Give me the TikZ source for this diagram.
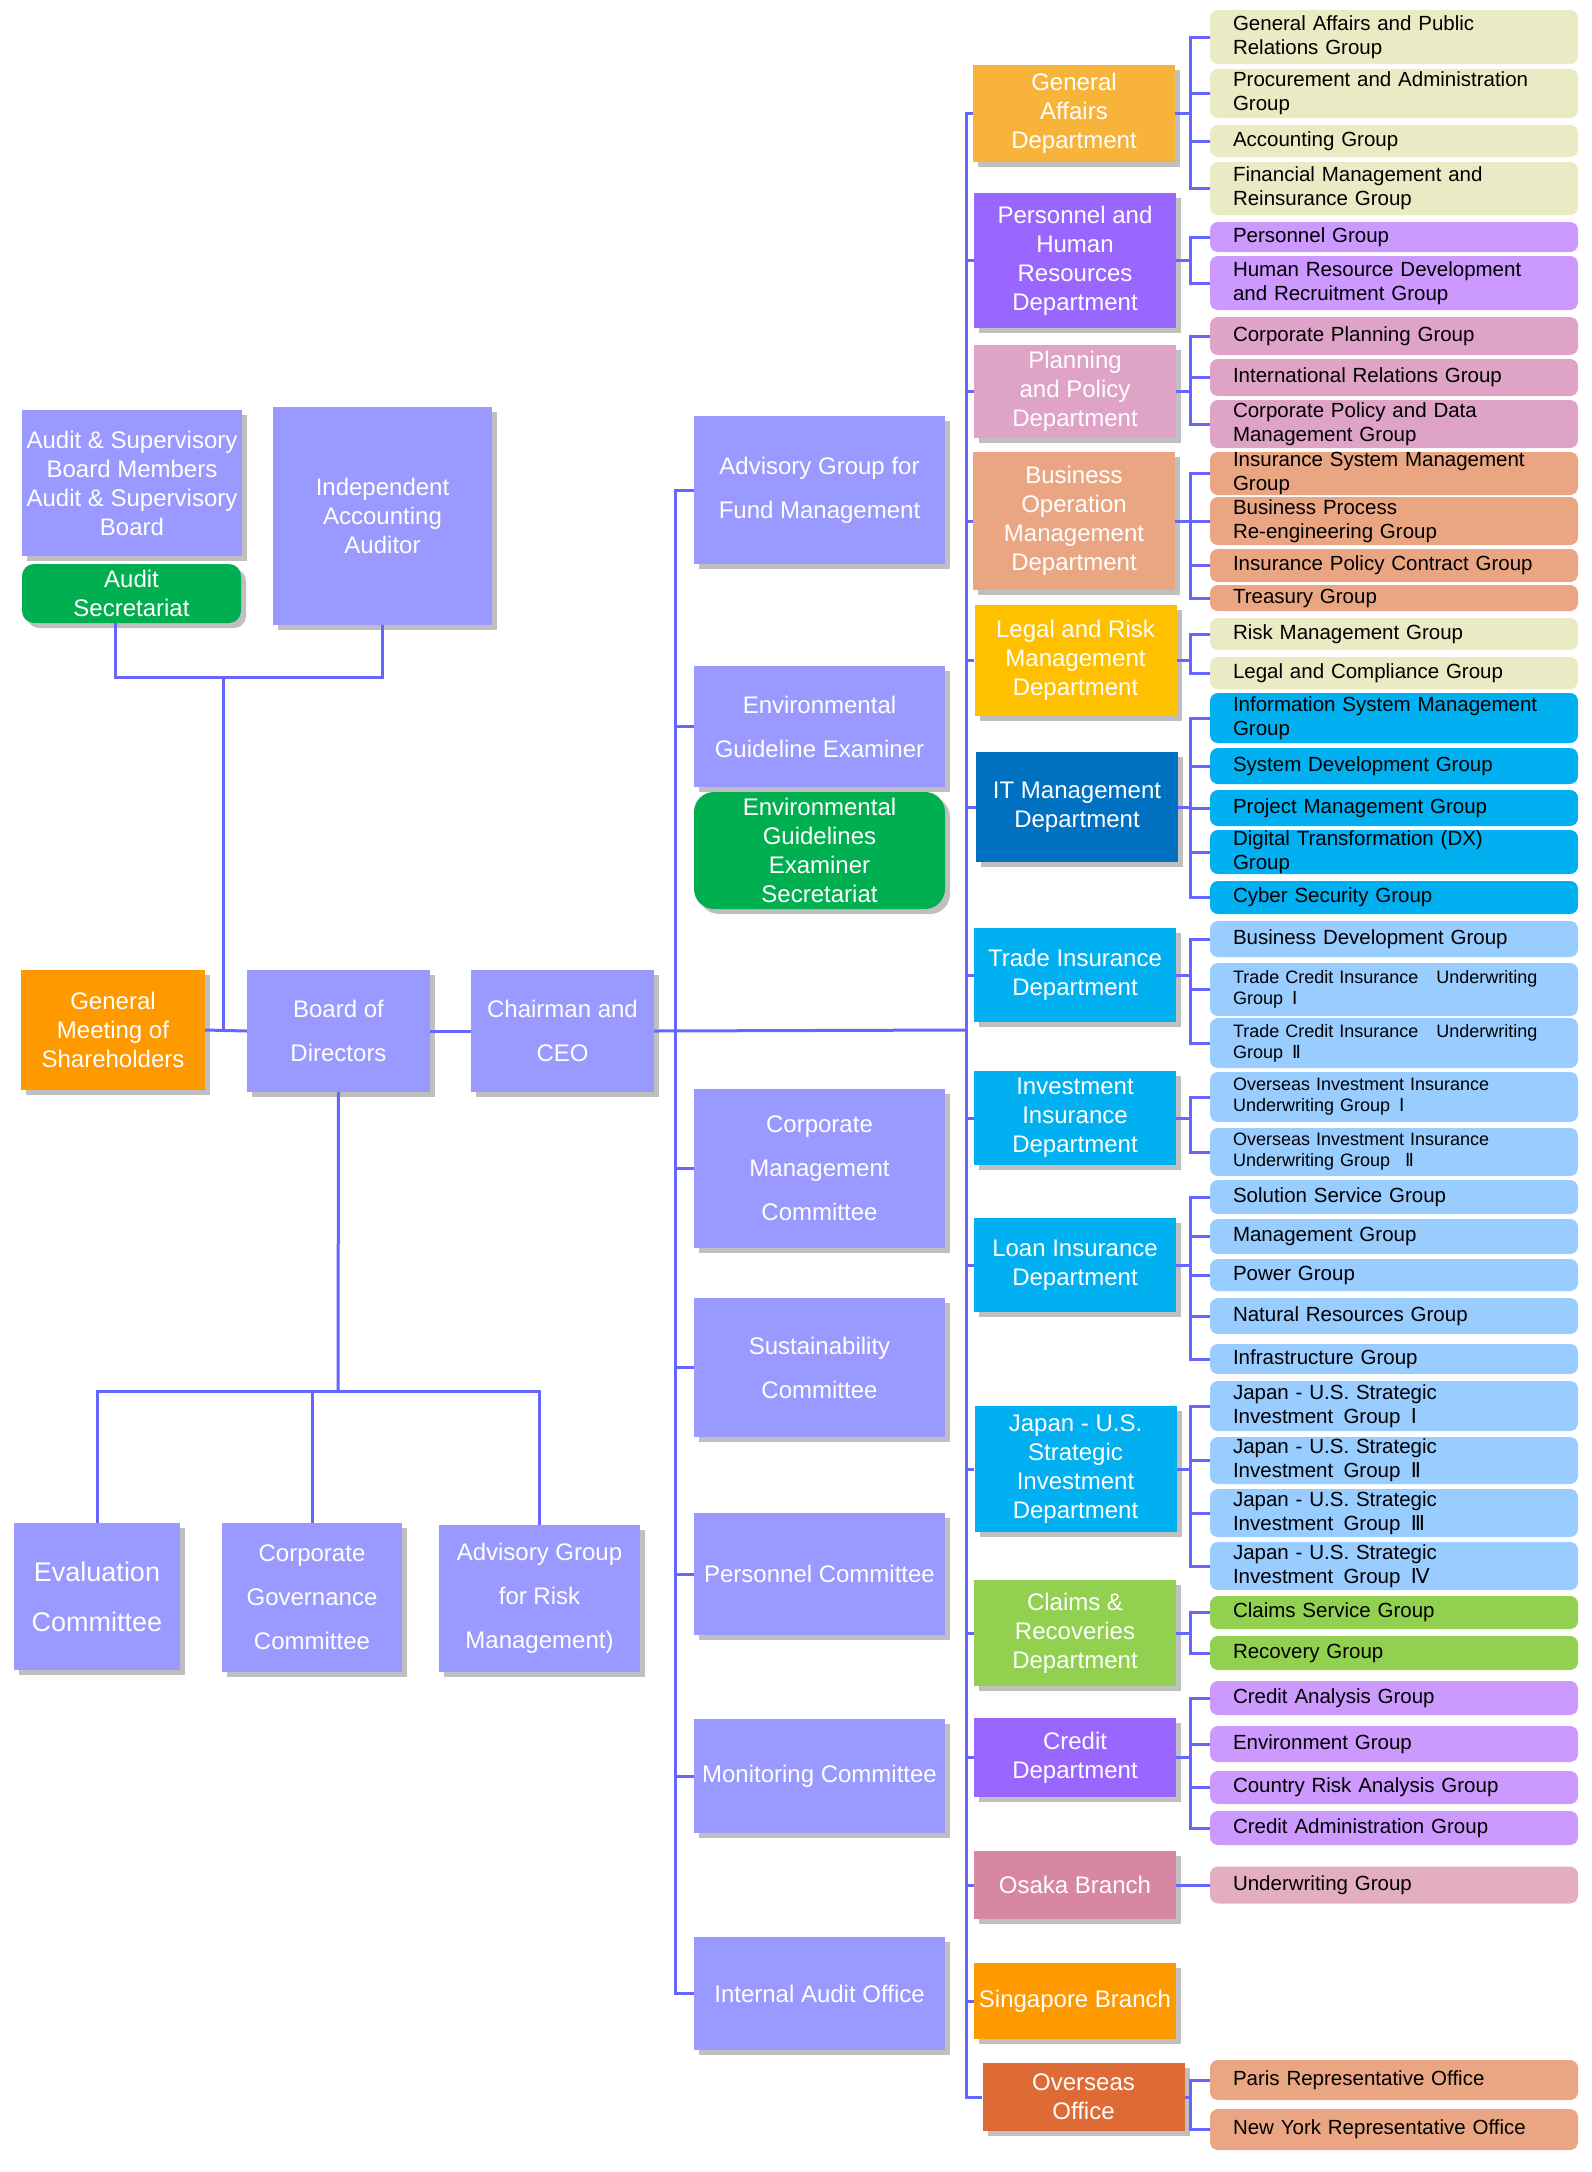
\documentclass[tikz,border=0pt]{standalone}
\usepackage{fontspec}
\setmainfont{Liberation Sans}
\newfontfamily\numfont{DejaVu Sans}
\usepackage{xcolor}
\definecolor{lavender}{HTML}{9999FF}
\definecolor{linkblue}{HTML}{6666FF}
\definecolor{secgreen}{HTML}{00B050}
\definecolor{gmorange}{HTML}{FF9900}
\definecolor{gaorange}{HTML}{F8B43A}
\definecolor{khaki}{HTML}{EAEAC4}
\definecolor{violet}{HTML}{9966FF}
\definecolor{lilac}{HTML}{CC99FF}
\definecolor{rose}{HTML}{DFA3C7}
\definecolor{salmon}{HTML}{EAA683}
\definecolor{gold}{HTML}{FFC000}
\definecolor{itblue}{HTML}{0070C0}
\definecolor{cyan}{HTML}{00B0F0}
\definecolor{skyblue}{HTML}{99CCFF}
\definecolor{lime}{HTML}{92D050}
\definecolor{osakapink}{HTML}{D787A2}
\definecolor{osakagrp}{HTML}{E4AEC2}
\definecolor{rust}{HTML}{DE6B35}
\usepackage{tikz}
\usetikzlibrary{shadows,positioning}
\newcommand{\rI}{{\numfont Ⅰ}}
\newcommand{\rII}{{\numfont Ⅱ}}
\newcommand{\rIII}{{\numfont Ⅲ}}
\newcommand{\rIV}{{\numfont Ⅳ}}
\tikzset{
  link/.style ={draw=linkblue,line width=3pt},
  box/.style  ={fill=#1,text=white,align=center,inner sep=1pt,
                font=\fontsize{24}{29}\selectfont,
                drop shadow={shadow xshift=5pt,shadow yshift=-5pt,
                             fill=black,opacity=.25}},
  wide/.style ={font=\fontsize{24}{44}\selectfont},
  dept/.style ={box=#1,minimum width=202pt},
  comm/.style ={box=lavender,wide,minimum width=251pt},
  sec/.style  ={box=secgreen,rounded corners=12pt},
  grp/.style  ={fill=#1,rounded corners=8pt,align=left,text width=322pt,
                inner xsep=23pt,inner ysep=0pt,
                font=\fontsize{20.5}{24}\selectfont},
  grpsm/.style={grp=#1,font=\fontsize{18}{21}\selectfont},
}

\begin{document}
\begin{tikzpicture}[x=1pt,y=-1pt]
\useasboundingbox (0,0) rectangle (1592,2172);
\fill[white] (0,0) rectangle (1592,2172);
% audit side
\node[box=lavender,minimum width=220pt,minimum height=146pt] (asb) at (132,483)
  {Audit \& Supervisory\\Board Members\\Audit \& Supervisory\\Board};
\node[sec,minimum width=219pt,minimum height=59pt] (asec) at (131.5,593.5) {Audit\\Secretariat};
\node[box=lavender,minimum width=219pt,minimum height=218pt] (indep) at (382.5,516)
  {Independent\\Accounting\\Auditor};
% top management
\node[box=gmorange,minimum width=184pt,minimum height=120pt] (gm) at (113,1030)
  {General\\Meeting of\\Shareholders};
\node[box=lavender,wide,minimum width=183pt,minimum height=122pt] (board) at (338.5,1031) {Board of\\Directors};
\node[box=lavender,wide,minimum width=183pt,minimum height=122pt] (chair) at (562.5,1031) {Chairman and\\CEO};
% committees of the board
\node[box=lavender,font=\fontsize{27}{50}\selectfont,minimum width=166pt,minimum height=147pt] (eval) at (97,1596.5)
  {Evaluation\\Committee};
\node[box=lavender,wide,minimum width=180pt,minimum height=149pt] (cgov) at (312,1597.5)
  {Corporate\\Governance\\Committee};
\node[box=lavender,wide,minimum width=201pt,minimum height=147pt] (advrisk) at (539.5,1598.5)
  {Advisory Group\\for Risk\\Management)};
% committees of the chairman
\node[comm,minimum height=148pt] (advfund) at (819.5,490) {Advisory Group for\\Fund Management};
\node[comm,minimum height=121pt] (envex) at (819.5,726.5) {Environmental\\Guideline Examiner};
\node[sec,rounded corners=20pt,minimum width=251pt,minimum height=117pt] (envsec) at (819.5,850.5)
  {Environmental\\Guidelines\\Examiner\\Secretariat};
\node[comm,minimum height=159pt] (cmc) at (819.5,1168.5) {Corporate\\Management\\Committee};
\node[comm,minimum height=139pt] (sus) at (819.5,1367.5) {Sustainability\\Committee};
\node[comm,minimum height=122pt] (perscom) at (819.5,1574) {Personnel Committee};
\node[comm,minimum height=114pt] (moncom) at (819.5,1776) {Monitoring Committee};
\node[comm,minimum height=113pt] (iao) at (819.5,1993.5) {Internal Audit Office};
% departments
\node[dept=gaorange,minimum height=97pt] (ga) at (1074,113.5) {General\\Affairs\\Department};
\node[dept=violet,minimum height=135pt] (phr) at (1075,260.5) {Personnel and\\Human\\Resources\\Department};
\node[dept=rose,minimum height=93pt] (pp) at (1075,391.5) {Planning\\and Policy\\Department};
\node[dept=salmon,minimum height=138pt] (bom) at (1074,521) {Business\\Operation\\Management\\Department};
\node[dept=gold,minimum height=111pt] (lrm) at (1075.5,660.5) {Legal and Risk\\Management\\Department};
\node[dept=itblue,minimum height=110pt] (itm) at (1077,807) {IT Management\\Department};
\node[dept=cyan,minimum height=94pt] (tid) at (1075,975) {Trade Insurance\\Department};
\node[dept=cyan,minimum height=94pt] (iid) at (1075,1118) {Investment\\Insurance\\Department};
\node[dept=cyan,minimum height=94pt] (lid) at (1075,1265) {Loan Insurance\\Department};
\node[dept=cyan,minimum height=126pt] (jus) at (1075.5,1469) {Japan - U.S.\\Strategic\\Investment\\Department};
\node[dept=lime,minimum height=106pt] (crd) at (1075,1633) {Claims \&\\Recoveries\\Department};
\node[dept=violet,minimum height=79pt] (cred) at (1075,1757.5) {Credit\\Department};
\node[dept=osakapink,minimum height=68pt] (osaka) at (1075,1885) {Osaka Branch};
\node[dept=gmorange,minimum height=76pt] (sing) at (1075,2001) {Singapore Branch};
\node[dept=rust,minimum height=68pt] (ovs) at (1083.5,2097) {Overseas\\Office};
% groups
\node[grp=khaki,minimum height=54pt] (ga1) at (1394,37) {General Affairs and Public\\Relations Group};
\node[grp=khaki,minimum height=49pt] (ga2) at (1394,93.5) {Procurement and Administration\\Group};
\node[grp=khaki,minimum height=32pt] (ga3) at (1394,141) {Accounting Group};
\node[grp=khaki,minimum height=53pt] (ga4) at (1394,188.5) {Financial Management and\\Reinsurance Group};
\node[grp=lilac,minimum height=30pt] (ph1) at (1394,237) {Personnel Group};
\node[grp=lilac,minimum height=54pt] (ph2) at (1394,283) {Human Resource Development\\and Recruitment Group};
\node[grp=rose,minimum height=38pt] (pp1) at (1394,336) {Corporate Planning Group};
\node[grp=rose,minimum height=37pt] (pp2) at (1394,377.5) {International Relations Group};
\node[grp=rose,minimum height=48pt] (pp3) at (1394,424) {Corporate Policy and Data\\Management Group};
\node[grp=salmon,minimum height=43pt] (bo1) at (1394,473.5) {Insurance System Management\\Group};
\node[grp=salmon,minimum height=48pt] (bo2) at (1394,521) {Business Process\\Re-engineering Group};
\node[grp=salmon,minimum height=33pt] (bo3) at (1394,565.5) {Insurance Policy Contract Group};
\node[grp=salmon,minimum height=26pt] (bo4) at (1394,598) {Treasury Group};
\node[grp=khaki,minimum height=32pt] (lr1) at (1394,634) {Risk Management Group};
\node[grp=khaki,minimum height=32pt] (lr2) at (1394,673) {Legal and Compliance Group};
\node[grp=cyan,minimum height=50pt] (it1) at (1394,718) {Information System Management\\Group};
\node[grp=cyan,minimum height=36pt] (it2) at (1394,766) {System Development Group};
\node[grp=cyan,minimum height=36pt] (it3) at (1394,808) {Project Management Group};
\node[grp=cyan,minimum height=44pt] (it4) at (1394,852) {Digital Transformation (DX)\\Group};
\node[grp=cyan,minimum height=33pt] (it5) at (1394,897.5) {Cyber Security Group};
\node[grp=skyblue,minimum height=36pt] (tr1) at (1394,939) {Business Development Group};
\node[grpsm=skyblue,minimum height=53pt] (tr2) at (1394,989.5) {Trade Credit Insurance\quad Underwriting\\Group\enspace\rI};
\node[grpsm=skyblue,minimum height=50pt] (tr3) at (1394,1043) {Trade Credit Insurance\quad Underwriting\\Group\enspace\rII};
\node[grpsm=skyblue,minimum height=50pt] (iv1) at (1394,1097) {Overseas Investment Insurance\\Underwriting Group\enspace\rI};
\node[grpsm=skyblue,minimum height=48pt] (iv2) at (1394,1152) {Overseas Investment Insurance\\Underwriting Group\enspace\ \rII};
\node[grp=skyblue,minimum height=34pt] (ln1) at (1394,1197) {Solution Service Group};
\node[grp=skyblue,minimum height=35pt] (ln2) at (1394,1236.5) {Management Group};
\node[grp=skyblue,minimum height=32pt] (ln3) at (1394,1275) {Power Group};
\node[grp=skyblue,minimum height=36pt] (ln4) at (1394,1316) {Natural Resources Group};
\node[grp=skyblue,minimum height=30pt] (ln5) at (1394,1359) {Infrastructure Group};
\node[grp=skyblue,minimum height=50pt] (ju1) at (1394,1406) {Japan - U.S. Strategic\\Investment\enspace Group\enspace\rI};
\node[grp=skyblue,minimum height=47pt] (ju2) at (1394,1460.5) {Japan - U.S. Strategic\\Investment\enspace Group\enspace\rII};
\node[grp=skyblue,minimum height=48pt] (ju3) at (1394,1513) {Japan - U.S. Strategic\\Investment\enspace Group\enspace\rIII};
\node[grp=skyblue,minimum height=48pt] (ju4) at (1394,1566) {Japan - U.S. Strategic\\Investment\enspace Group\enspace\rIV};
\node[grp=lime,minimum height=33pt] (cl1) at (1394,1612.5) {Claims Service Group};
\node[grp=lime,minimum height=34pt] (cl2) at (1394,1653) {Recovery Group};
\node[grp=lilac,minimum height=34pt] (cr1) at (1394,1698) {Credit Analysis Group};
\node[grp=lilac,minimum height=36pt] (cr2) at (1394,1744) {Environment Group};
\node[grp=lilac,minimum height=33pt] (cr3) at (1394,1787.5) {Country Risk Analysis Group};
\node[grp=lilac,minimum height=34pt] (cr4) at (1394,1828) {Credit Administration Group};
\node[grp=osakagrp,minimum height=37pt] (os1) at (1394,1885) {Underwriting Group};
\node[grp=salmon,minimum height=40pt] (ov1) at (1394,2080) {Paris Representative Office};
\node[grp=salmon,minimum height=41pt] (ov2) at (1394,2129.5) {New York Representative Office};
% connectors
\coordinate (asplit) at (223,677);
\coordinate (bsplit) at (338,1391);
\coordinate (mtrunk) at (675,1030);
\coordinate (rtrunk) at (966,1030);
\draw[link] ([xshift=-16pt]asec.south) |- (asplit) -| (indep.south);
\draw[link] (asplit) -- (asplit |- gm.east);
\draw[link] (gm.east) -- (board.west);
\draw[link] (board.east) -- (chair.west);
\draw[link] (chair.east) -- (rtrunk);
\draw[link] (board.south) -- (bsplit);
\foreach \c in {eval,cgov,advrisk}
  \draw[link] (\c.north) |- (bsplit);
\foreach \m in {advfund,envex,cmc,sus,perscom,moncom,iao}
  \draw[link] (\m.west) -| (mtrunk);
\foreach \d in {ga,phr,pp,bom,lrm,itm,tid,iid,lid,jus,crd,cred,osaka,sing,ovs}
  \draw[link] (\d.west) -| (rtrunk);
\foreach \d/\gs in {ga/{ga1,ga2,ga3,ga4},phr/{ph1,ph2},pp/{pp1,pp2,pp3},
                    bom/{bo1,bo2,bo3,bo4},lrm/{lr1,lr2},itm/{it1,it2,it3,it4,it5},
                    tid/{tr1,tr2,tr3},iid/{iv1,iv2},lid/{ln1,ln2,ln3,ln4,ln5},
                    jus/{ju1,ju2,ju3,ju4},crd/{cl1,cl2},cred/{cr1,cr2,cr3,cr4},
                    osaka/{os1},ovs/{ov1,ov2}}
  \foreach \g in \gs
    \draw[link] (\g.west) -- ++(-19,0) |- (\d.east);
\end{tikzpicture}
\end{document}
